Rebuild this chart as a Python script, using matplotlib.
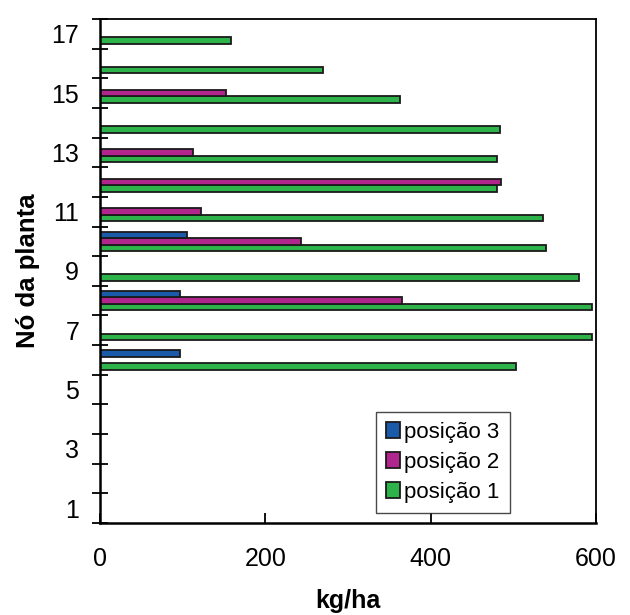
import matplotlib
matplotlib.use("Agg")
import matplotlib.pyplot as plt
import numpy as np

plt.rcParams['font.family'] = ['Liberation Sans', 'DejaVu Sans']

nodes = list(range(1, 18))
pos1 = [0, 0, 0, 0, 0, 503, 595, 595, 579, 540, 536, 480, 480, 484, 363, 270, 159]
pos2 = [0, 0, 0, 0, 0, 0, 0, 365, 0, 243, 122, 485, 113, 0, 153, 0, 0]
pos3 = [0, 0, 0, 0, 0, 97, 0, 97, 0, 105, 0, 0, 0, 0, 0, 0, 0]
series_names = ['posição 1', 'posição 2', 'posição 3']
colors = ['#2DB34A', '#B0268C', '#1A5AA8']
ylabels_shown = [1, 3, 5, 7, 9, 11, 13, 15, 17]
xticks = [0, 200, 400, 600]

fig = plt.figure(figsize=(6.3, 6.15), dpi=100)
ax = fig.add_axes([0.1587, 0.1496, 0.7873, 0.8195])

h = 0.22
y = np.array(nodes, dtype=float)
handles = []
for i, (vals, name, c) in enumerate(zip([pos1, pos2, pos3], series_names, colors)):
    v = np.array(vals, dtype=float)
    mask = v > 0
    b = ax.barh(y[mask] + (i - 1) * h, v[mask], height=h, color=c,
                edgecolor='#1a1a1a', linewidth=1.3, label=name)
    handles.append(b)

ax.set_xlim(0, 600)
ax.set_ylim(0.5, 17.5)

# boundary ticks (major) without labels, labels at odd nodes via minor ticks
ax.set_yticks(np.arange(0.5, 18.0, 1.0))
ax.set_yticklabels([])
ax.tick_params(axis='y', which='major', direction='inout', length=12, width=1.3)
ax.set_yticks(ylabels_shown, minor=True)
ax.set_yticklabels([str(v) for v in ylabels_shown], minor=True, fontsize=18)
ax.tick_params(axis='y', which='minor', length=0, pad=15)

ax.set_xticks(xticks)
ax.set_xticklabels([str(v) for v in xticks], fontsize=18)
ax.tick_params(axis='x', which='major', direction='in', length=7, width=1.3, pad=17)

for side in ['left', 'bottom']:
    ax.spines[side].set_linewidth(1.8)
for side in ['right', 'top']:
    ax.spines[side].set_linewidth(1.3)

ax.set_xlabel('kg/ha', fontsize=18, fontweight='bold', labelpad=13)
ax.set_ylabel('Nó da planta', fontsize=18.5, fontweight='bold', labelpad=8)

leg = ax.legend(handles[::-1], series_names[::-1], loc='lower left',
                bbox_to_anchor=(0.556, 0.02), fontsize=16, frameon=True,
                fancybox=False, edgecolor='#1a1a1a', handlelength=0.62,
                handleheight=0.72, handletextpad=0.22, labelspacing=0.4,
                borderpad=0.45, borderaxespad=0)
leg.get_frame().set_linewidth(1.0)

fig.savefig('out.png', dpi=100)
